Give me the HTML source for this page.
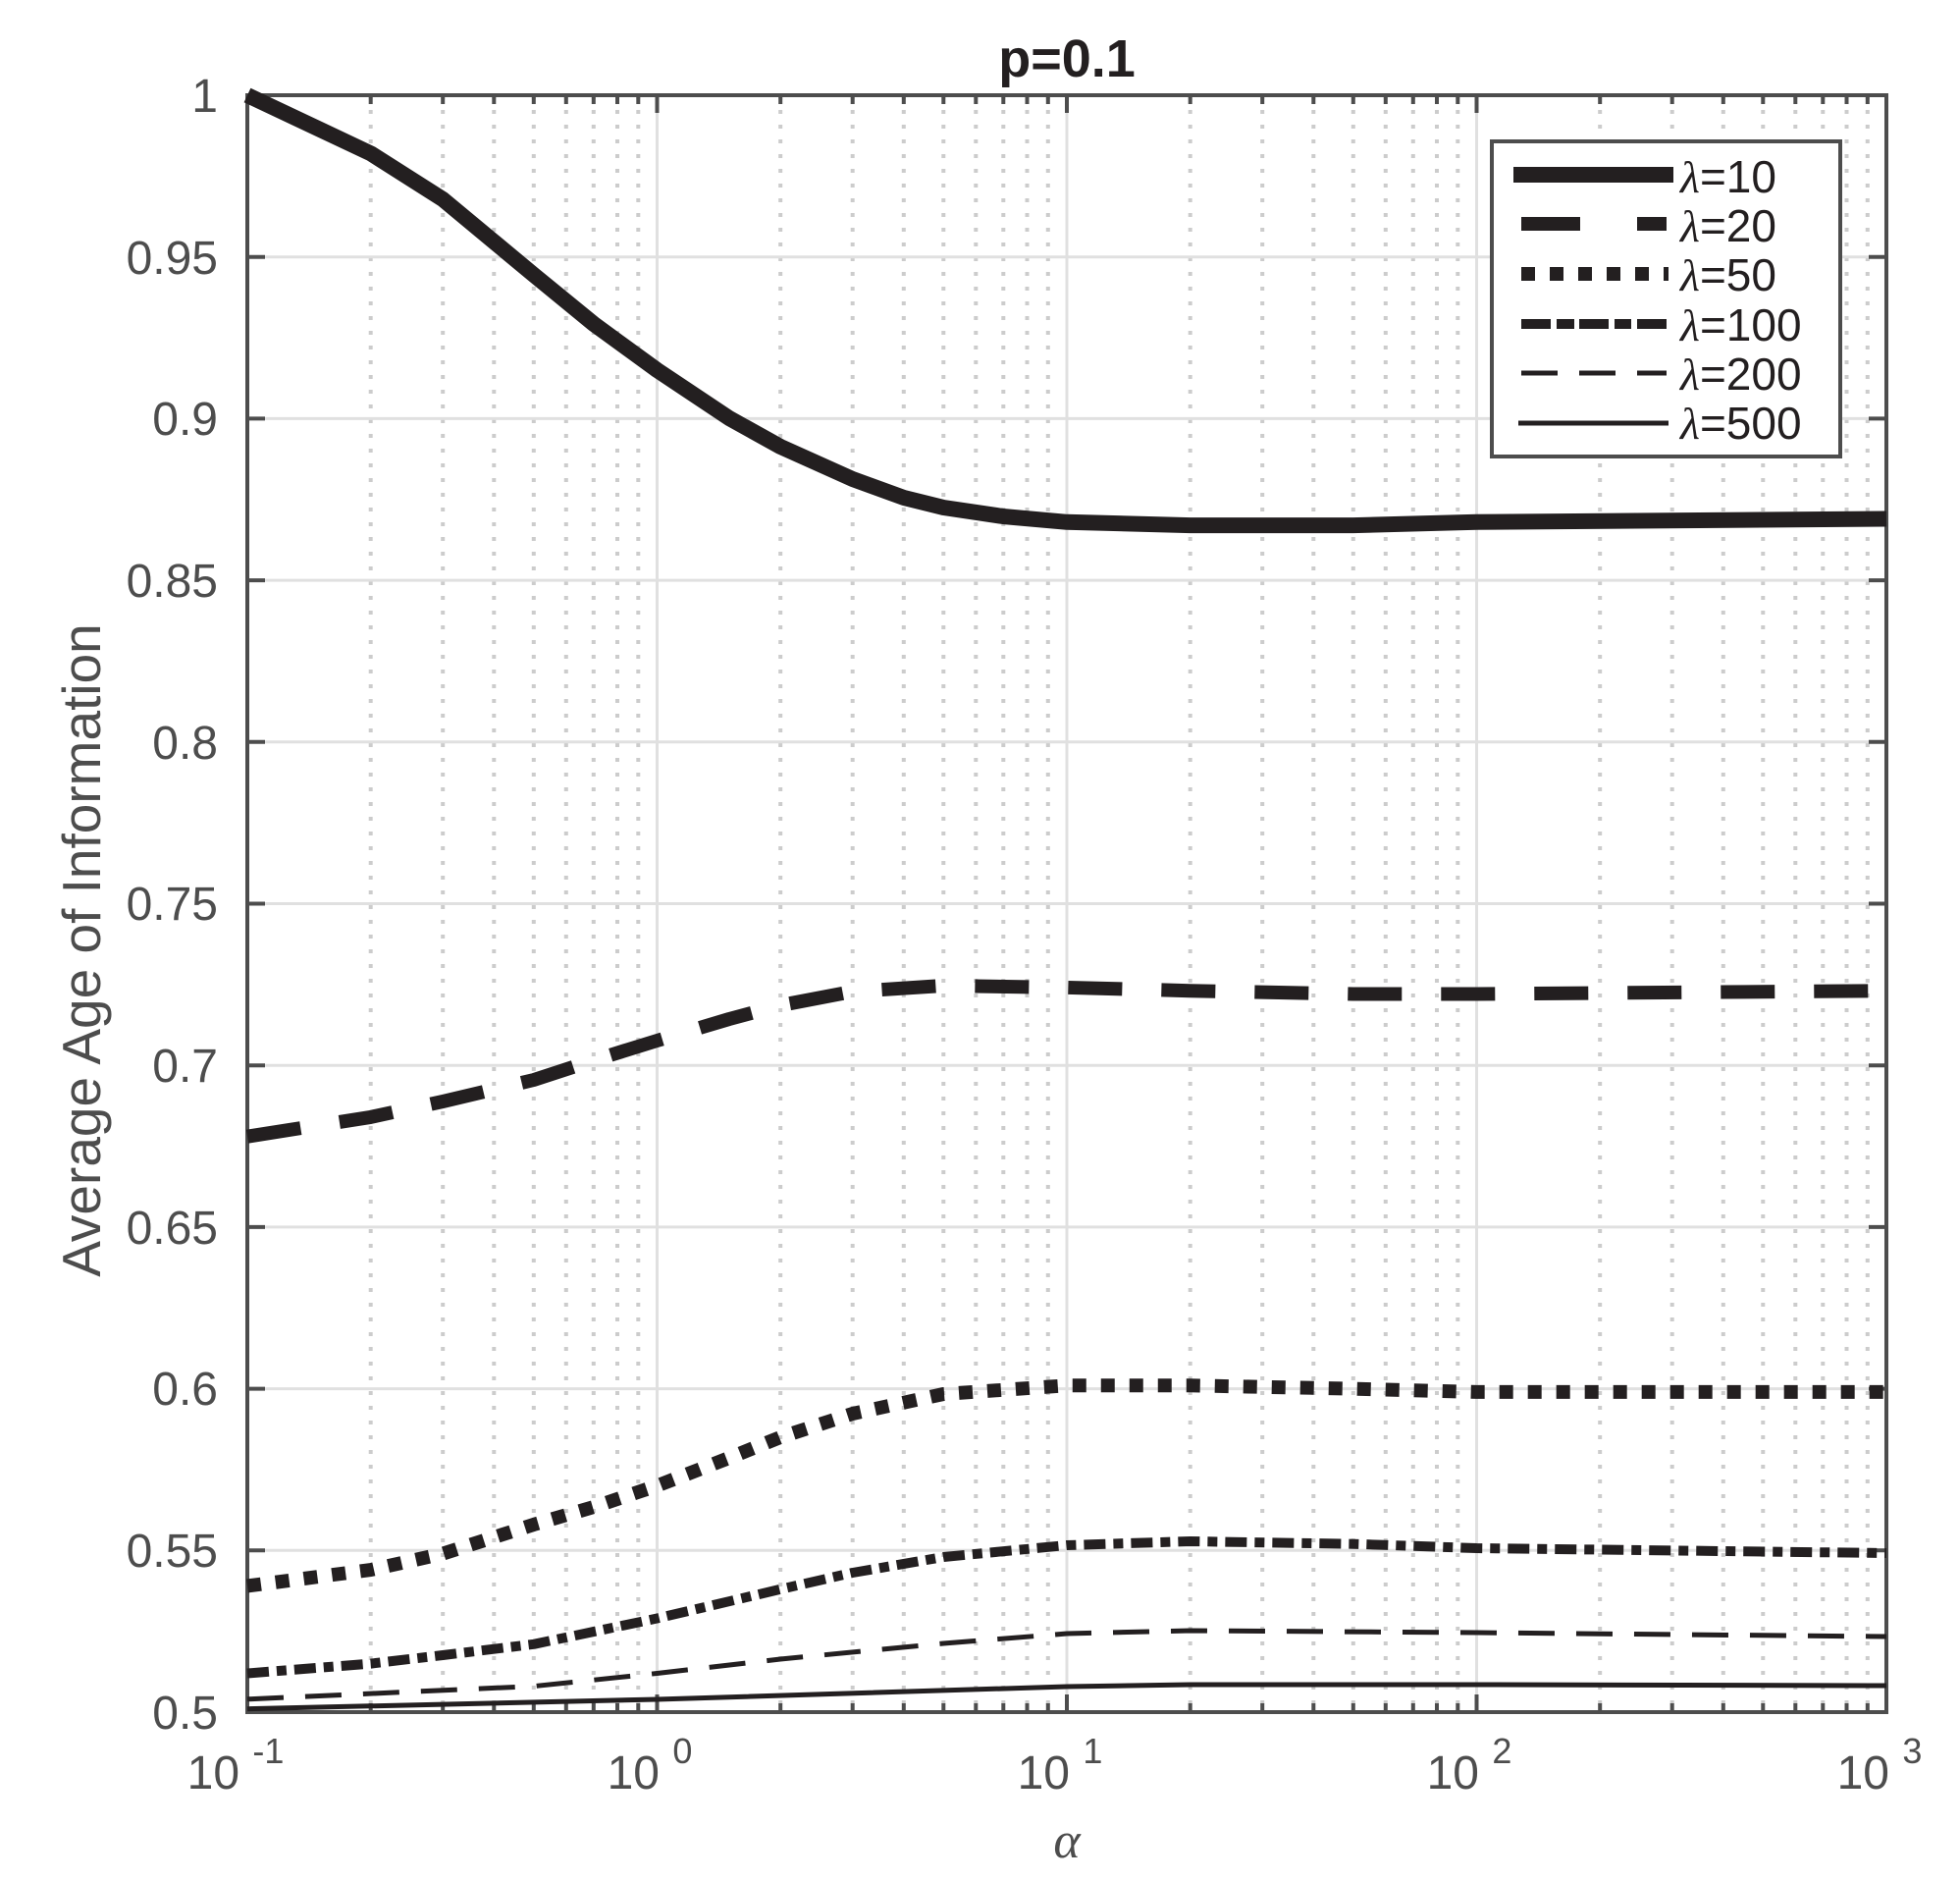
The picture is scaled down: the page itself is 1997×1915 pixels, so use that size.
<!DOCTYPE html>
<html><head><meta charset="utf-8"><style>
html,body{margin:0;padding:0;background:#fff;}
svg{display:block;}
.t{font-family:"Liberation Sans",sans-serif;font-size:48px;fill:#4d4d4d;}
</style></head><body>
<svg width="1997" height="1915" viewBox="0 0 1997 1915" xmlns="http://www.w3.org/2000/svg">
<rect width="1997" height="1915" fill="#fff"/>
<g stroke="#cccccc" stroke-width="4" stroke-dasharray="4 11">
<path d="M377.7 97V1744M451.2 97V1744M503.3 97V1744M543.8 97V1744M576.8 97V1744M604.8 97V1744M629 97V1744M650.3 97V1744
M795.2 97V1744M868.7 97V1744M920.8 97V1744M961.3 97V1744M994.3 97V1744M1022.3 97V1744M1046.5 97V1744M1067.8 97V1744
M1212.7 97V1744M1286.2 97V1744M1338.3 97V1744M1378.8 97V1744M1411.8 97V1744M1439.8 97V1744M1464 97V1744M1485.3 97V1744
M1630.2 97V1744M1703.7 97V1744M1755.8 97V1744M1796.3 97V1744M1829.3 97V1744M1857.3 97V1744M1881.5 97V1744M1902.8 97V1744"/>
</g>
<g stroke="#e0e0e0" stroke-width="3">
<path d="M669.5 97V1744M1087 97V1744M1504.5 97V1744"/>
<path d="M252 1579.3H1922M252 1414.6H1922M252 1249.9H1922M252 1085.2H1922M252 920.5H1922M252 755.8H1922M252 591.1H1922M252 426.4H1922M252 261.7H1922"/>
</g>
<g stroke="#4d4d4d" stroke-width="4">
<path d="M252 1579.3h18M252 1414.6h18M252 1249.9h18M252 1085.2h18M252 920.5h18M252 755.8h18M252 591.1h18M252 426.4h18M252 261.7h18
M1922 1579.3h-18M1922 1414.6h-18M1922 1249.9h-18M1922 1085.2h-18M1922 920.5h-18M1922 755.8h-18M1922 591.1h-18M1922 426.4h-18M1922 261.7h-18
M669.5 97v18M1087 97v18M1504.5 97v18M669.5 1744v-18M1087 1744v-18M1504.5 1744v-18"/>
<path d="M377.7 97v9M451.2 97v9M503.3 97v9M543.8 97v9M576.8 97v9M604.8 97v9M629 97v9M650.3 97v9
M795.2 97v9M868.7 97v9M920.8 97v9M961.3 97v9M994.3 97v9M1022.3 97v9M1046.5 97v9M1067.8 97v9
M1212.7 97v9M1286.2 97v9M1338.3 97v9M1378.8 97v9M1411.8 97v9M1439.8 97v9M1464 97v9M1485.3 97v9
M1630.2 97v9M1703.7 97v9M1755.8 97v9M1796.3 97v9M1829.3 97v9M1857.3 97v9M1881.5 97v9M1902.8 97v9
M377.7 1744v-9M451.2 1744v-9M503.3 1744v-9M543.8 1744v-9M576.8 1744v-9M604.8 1744v-9M629 1744v-9M650.3 1744v-9
M795.2 1744v-9M868.7 1744v-9M920.8 1744v-9M961.3 1744v-9M994.3 1744v-9M1022.3 1744v-9M1046.5 1744v-9M1067.8 1744v-9
M1212.7 1744v-9M1286.2 1744v-9M1338.3 1744v-9M1378.8 1744v-9M1411.8 1744v-9M1439.8 1744v-9M1464 1744v-9M1485.3 1744v-9
M1630.2 1744v-9M1703.7 1744v-9M1755.8 1744v-9M1796.3 1744v-9M1829.3 1744v-9M1857.3 1744v-9M1881.5 1744v-9M1902.8 1744v-9"/>
</g>
<rect x="252" y="97" width="1670" height="1647" fill="none" stroke="#4d4d4d" stroke-width="4"/>
<g fill="none" stroke="#231f20" stroke-linejoin="round">
<path stroke-width="16" d="M252 97L377.7 156.3L451.2 203L543.9 280L605 330L669.5 377L743 426L795.2 455L868.7 488L921 507L961.3 517L1022 526L1087 531.8L1212.7 535.1L1378.8 535.1L1504.5 531.8L1922 528.5"/>
<path stroke-width="14" stroke-dasharray="55 40" d="M252 1157.7L377.7 1137.9L451.2 1122L543.9 1100L605 1080L669.5 1060L743 1038L795.2 1024L868.7 1010L961.3 1004L1087 1005.9L1212.7 1009.2L1378.8 1012.5L1504.5 1012.5L1922 1009.2"/>
<path stroke-width="14" stroke-dasharray="14 15" d="M252 1615.5L377.7 1599.1L451.2 1582.6L543.9 1552.9L605 1535L669.5 1513.4L743 1485L795.2 1464L868.7 1440L961.3 1420L1087 1411.3L1212.7 1411.3L1378.8 1414.6L1504.5 1417.9L1922 1417.9"/>
<path stroke-width="10" stroke-dasharray="22 8 10 8" d="M252 1704.5L377.7 1694.6L451.2 1686L543.9 1674.8L669.5 1648.5L795.2 1618.8L868.7 1602L961.3 1586L1087 1574L1212.7 1570L1378.8 1572.7L1504.5 1577L1922 1582"/>
<path stroke-width="5" stroke-dasharray="37 22" d="M252 1730.8L543.9 1717.6L669.5 1704.5L795.2 1690L961.3 1674L1087 1664L1212.7 1661L1504.5 1663L1922 1667"/>
<path stroke-width="5" d="M252 1740.7L669.5 1731L1087 1718L1212.7 1716L1504.5 1716L1922 1717"/>
</g>
<rect x="1520" y="144" width="355" height="321" fill="#fff" stroke="#4d4d4d" stroke-width="4"/>
<g stroke="#231f20" fill="none">
<path stroke-width="16" d="M1542 178H1705"/>
<path stroke-width="14" d="M1550 228H1610M1668 228H1698"/>
<path stroke-width="14" stroke-dasharray="14 15" d="M1550 279H1700"/>
<path stroke-width="10" d="M1550 330H1580M1586 330H1604M1609 330H1639M1645 330H1662M1668 330H1698"/>
<path stroke-width="5" d="M1550 380H1587M1609 380H1646M1668 380H1698"/>
<path stroke-width="5" d="M1547 431H1700"/>
</g>
<g font-family="Liberation Sans,sans-serif" font-size="46" fill="#231f20">
<text x="1712" y="196"><tspan font-family="Liberation Serif,serif" font-style="italic">λ</tspan>=10</text>
<text x="1712" y="246"><tspan font-family="Liberation Serif,serif" font-style="italic">λ</tspan>=20</text>
<text x="1712" y="296"><tspan font-family="Liberation Serif,serif" font-style="italic">λ</tspan>=50</text>
<text x="1712" y="347"><tspan font-family="Liberation Serif,serif" font-style="italic">λ</tspan>=100</text>
<text x="1712" y="397"><tspan font-family="Liberation Serif,serif" font-style="italic">λ</tspan>=200</text>
<text x="1712" y="447"><tspan font-family="Liberation Serif,serif" font-style="italic">λ</tspan>=500</text>
</g>
<g class="t" text-anchor="end">
<text x="222" y="1761">0.5</text>
<text x="222" y="1596">0.55</text>
<text x="222" y="1431">0.6</text>
<text x="222" y="1267">0.65</text>
<text x="222" y="1102">0.7</text>
<text x="222" y="937">0.75</text>
<text x="222" y="773">0.8</text>
<text x="222" y="608">0.85</text>
<text x="222" y="443">0.9</text>
<text x="222" y="279">0.95</text>
<text x="222" y="114">1</text>
</g>
<g class="t" text-anchor="middle">
<text x="240" y="1822">10 <tspan font-size="36" dy="-26">-1</tspan></text>
<text x="662" y="1822">10 <tspan font-size="36" dy="-26">0</tspan></text>
<text x="1080" y="1822">10 <tspan font-size="36" dy="-26">1</tspan></text>
<text x="1497" y="1822">10 <tspan font-size="36" dy="-26">2</tspan></text>
<text x="1915" y="1822">10 <tspan font-size="36" dy="-26">3</tspan></text>
</g>
<text x="1087" y="1892" text-anchor="middle" font-family="Liberation Serif,serif" font-style="italic" font-size="52" fill="#4d4d4d">α</text>
<text transform="translate(102 968) rotate(-90)" text-anchor="middle" font-family="Liberation Sans,sans-serif" font-size="55" fill="#4d4d4d">Average Age of Information</text>
<text x="1087" y="78" text-anchor="middle" font-family="Liberation Sans,sans-serif" font-weight="bold" font-size="54" fill="#231f20">p=0.1</text>
</svg>
</body></html>
